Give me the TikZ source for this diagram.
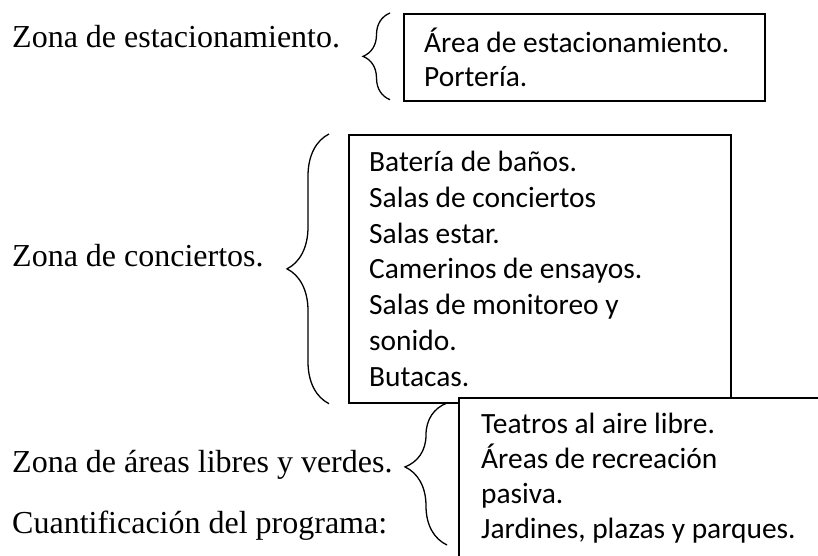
\documentclass[tikz,border=0pt]{standalone}
\usepackage{fontspec}
\setmainfont{Liberation Serif}
\newfontfamily\calibri{Carlito}
\usetikzlibrary{positioning, calc, decorations.pathreplacing}

\begin{document}
\begin{tikzpicture}[x=1pt, y=-1pt,
  zona/.style={font=\fontsize{32}{38}\selectfont, inner sep=0pt, anchor=base west},
  caja/.style={draw, line width=1.7pt, fill=white, inner sep=0pt, anchor=north west},
  lista/.style={font=\calibri\fontsize{29.4}{35.3}\selectfont, align=left, inner sep=0pt, anchor=base west},
  llave/.style={decorate, decoration={brace, amplitude=#1}, line width=1.3pt},
  llave/.default=42pt]

\useasboundingbox (0,0) rectangle (818,555);

% -- Zonas (left column) ----------------------------------------------------
\node[zona] (zest)  at (12,47)  {Zona de estacionamiento.};
\node[zona] (zcon)  at (12,266) {Zona de conciertos.};
\node[zona] (zlib)  at (12,472) {Zona de áreas libres y verdes.};
\node[zona] (cuant) at (12,533) {Cuantificación del programa:};

% -- Boxes (text anchored on its last line) ---------------------------------
\node[caja, minimum width=361pt, minimum height=87pt]  (cajaest) at (403,13)  {};
\node[lista, font=\calibri\fontsize{29.4}{34}\selectfont] (listaest)
  at ($(cajaest.north west)+(21,73)$)
  {Área de estacionamiento.\\Portería.};

\node[caja, minimum width=382pt, minimum height=268pt] (cajacon) at (348,134) {};
\node[lista, font=\calibri\fontsize{29.4}{35.7}\selectfont] (listacon)
  at ($(cajacon.north west)+(21,252)$)
  {Batería de baños.\\Salas de conciertos\\Salas estar.\\Camerinos de ensayos.\\%
   Salas de monitoreo y\\sonido.\\Butacas.};

% open box, runs off the page
\node[caja, minimum width=400pt, minimum height=200pt] (cajalib) at (458,397) {};
\node[lista, font=\calibri\fontsize{29.4}{34.8}\selectfont] (listalib)
  at ($(cajalib.north west)+(23,141)$)
  {Teatros al aire libre.\\Áreas de recreación\\pasiva.\\Jardines, plazas y parques.};

% -- Braces -----------------------------------------------------------------
\coordinate (l1a) at ($(cajaest.south west)+(-13,-2)$);
\coordinate (l1b) at ($(cajaest.north west)+(-13,0)$);
\draw[llave=27pt] (l1a) -- (l1b);

\coordinate (l2a) at ($(cajacon.south west)+(-19,0)$);
\coordinate (l2b) at ($(cajacon.north west)+(-19,0)$);
\draw[llave] (l2a) -- (l2b);

\coordinate (l3a) at ($(cajalib.north west)+(-11,148)$);
\coordinate (l3b) at ($(cajalib.north west)+(-11,6)$);
\draw[llave, decoration={aspect=0.55}] (l3a) -- (l3b);

\end{tikzpicture}
\end{document}
